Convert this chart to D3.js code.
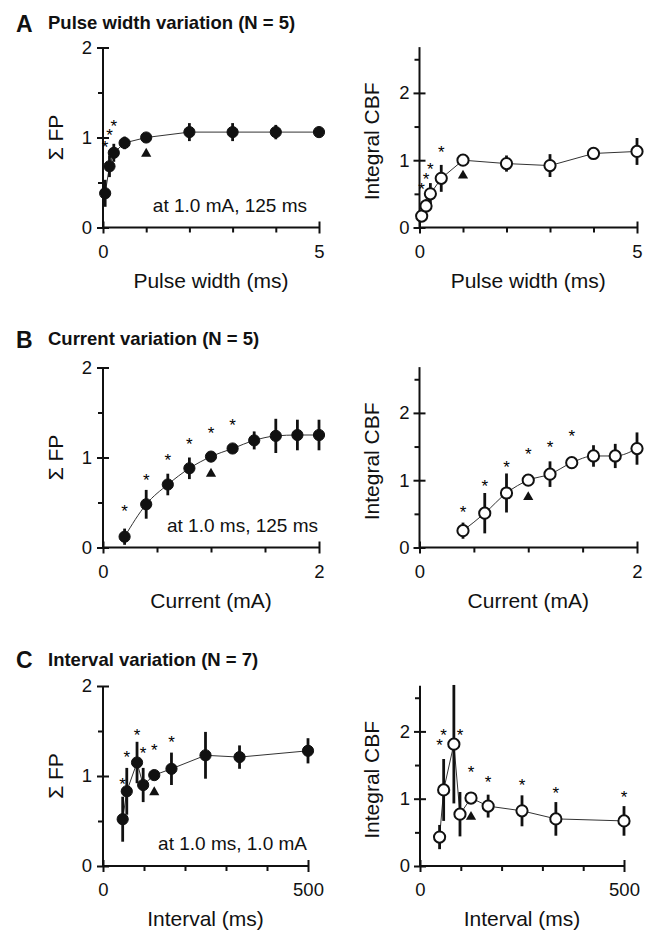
<!DOCTYPE html>
<html>
<head>
<meta charset="utf-8">
<script src="https://cdn.jsdelivr.net/npm/d3@7"></script>
<style>
  body { margin: 0; background: #fff; }
  text { font-family: "Liberation Sans", Arial, sans-serif; fill: #111; }
</style>
</head>
<body>
<div id="container"></div>
<script>
// ---- data ----
// A: pulse width variation
let pwX      = [0.05, 0.15, 0.25, 0.5, 1, 2, 3, 4, 5];
let fpA      = [0.38, 0.68, 0.83, 0.94, 1.0, 1.06, 1.06, 1.06, 1.06];
let fpAErr   = [0.15, 0.12, 0.10, 0.07, 0, 0.10, 0.10, 0.08, 0.05];
let fpAStar  = [0.94, 1.07, 1.17, null, null, null, null, null, null];
let cbfA     = [0.17, 0.32, 0.50, 0.73, 1.0, 0.95, 0.92, 1.10, 1.13];
let cbfAErr  = [0.07, 0.10, 0.16, 0.20, 0, 0.12, 0.17, 0.05, 0.20];
let cbfAStar = [0.63, 0.78, 0.93, 1.18, null, null, null, null, null];

// B: current variation
let curX     = [0.2, 0.4, 0.6, 0.8, 1.0, 1.2, 1.4, 1.6, 1.8, 2.0];
let fpB      = [0.12, 0.48, 0.70, 0.88, 1.01, 1.10, 1.19, 1.24, 1.25, 1.25];
let fpBErr   = [0.09, 0.16, 0.12, 0.12, 0, 0.05, 0.10, 0.19, 0.17, 0.17];
let fpBStar  = [0.45, 0.79, 1.02, 1.20, 1.32, 1.41, null, null, null, null];
let curX2    = [0.4, 0.6, 0.8, 1.0, 1.2, 1.4, 1.6, 1.8, 2.0];
let cbfB     = [0.25, 0.51, 0.81, 1.0, 1.09, 1.26, 1.36, 1.36, 1.47];
let cbfBErr  = [0.12, 0.30, 0.29, 0, 0.19, 0.08, 0.16, 0.18, 0.24];
let cbfBStar = [0.58, 0.97, 1.26, 1.45, 1.55, 1.71, null, null, null];

// C: interval variation
let intX     = [48, 58, 83, 98, 125, 167, 250, 333, 500];
let fpC      = [0.52, 0.83, 1.15, 0.90, 1.01, 1.08, 1.23, 1.21, 1.28];
let fpCErr   = [0.25, 0.26, 0.23, 0.19, 0, 0.18, 0.26, 0.13, 0.14];
let fpCStar  = [0.96, 1.26, 1.50, 1.30, 1.33, 1.42, null, null, null];
let cbfC     = [0.43, 1.13, 1.81, 0.77, 1.01, 0.89, 0.82, 0.70, 0.67];
let cbfCErr  = [0.18, 0.46, 0.88, 0.33, 0, 0.17, 0.23, 0.25, 0.22];
let cbfCStar = [1.85, 2.0, null, 2.0, 1.45, 1.31, 1.26, 1.14, 1.09];

// reference point (triangle) per panel: [x, y]
let refA = [[1, 0.82], [1, 0.77]];
let refB = [[1, 0.82], [1, 0.75]];
let refC = [[125, 0.82], [125, 0.73]];

let titles  = ["Pulse width variation (N = 5)", "Current variation (N = 5)", "Interval variation (N = 7)"];
let letters = ["A", "B", "C"];
let xLabels = ["Pulse width (ms)", "Current (mA)", "Interval (ms)"];
let notes   = ["at 1.0 mA, 125 ms", "at 1.0 ms, 125 ms", "at 1.0 ms, 1.0 mA"];

// ---- svg ----
let w = 650;
let h = 931;
let viz = d3.select("#container")
  .append("svg")
    .attr("width", w)
    .attr("height", h)
    .style("background-color", "#fff");

function drawPanel(cfg) {
  let x = d3.scaleLinear().domain(cfg.xDomain).range(cfg.xRange);
  let y = d3.scaleLinear().domain(cfg.yDomain).range(cfg.yRange);
  let g = viz.append("g");

  // y axis line
  g.append("line")
    .attr("x1", x(cfg.xDomain[0])).attr("x2", x(cfg.xDomain[0]))
    .attr("y1", y(0)).attr("y2", y(cfg.yDomain[1]))
    .attr("stroke", "#111").attr("stroke-width", 2);
  // x axis line
  g.append("line")
    .attr("x1", x(cfg.xDomain[0])).attr("x2", x(cfg.xDomain[1]))
    .attr("y1", y(0)).attr("y2", y(0))
    .attr("stroke", "#111").attr("stroke-width", 2);

  // y ticks
  let yMajor = g.append("g")
    .attr("transform", "translate(" + x(cfg.xDomain[0]) + ",0)")
    .call(d3.axisLeft(y).tickValues([0, 1, 2]).tickSize(6).tickPadding(cfg.yPad).tickFormat(d3.format("d")));
  yMajor.selectAll(".tick line").attr("x1", 6);
  let yMinor = g.append("g")
    .attr("transform", "translate(" + x(cfg.xDomain[0]) + ",0)")
    .call(d3.axisLeft(y).tickValues(cfg.yMinor).tickSize(5).tickFormat(""));

  // x ticks
  let xMajor = g.append("g")
    .attr("transform", "translate(0," + y(0) + ")")
    .call(d3.axisBottom(x).tickValues(cfg.xDomain).tickSize(6).tickPadding(11).tickFormat(d3.format("d")));
  xMajor.selectAll(".tick line").attr("y1", -6);
  let xMinor = g.append("g")
    .attr("transform", "translate(0," + y(0) + ")")
    .call(d3.axisBottom(x).tickValues(cfg.xMinor).tickSize(5).tickFormat(""));

  [yMajor, yMinor, xMajor, xMinor].forEach(a => {
    a.select(".domain").remove();
    a.selectAll(".tick line").attr("stroke", "#111").attr("stroke-width", 2);
    a.selectAll("text").style("font-size", "18.5px").attr("fill", "#111");
  });

  // axis titles
  g.append("text")
    .text(cfg.xLabel)
    .attr("x", (cfg.xRange[0] + cfg.xRange[1]) / 2)
    .attr("y", y(0) + 60)
    .attr("text-anchor", "middle")
    .style("font-size", "21px");
  g.append("text")
    .text(cfg.yLabel)
    .attr("transform", "translate(" + cfg.yLabelX + "," + ((y(0) + y(cfg.yDomain[1])) / 2 + cfg.yLabelDy) + ") rotate(-90)")
    .attr("text-anchor", "middle")
    .style("font-size", "21px");

  let data = cfg.xs.map((d, i) => ({x: d, y: cfg.ys[i], e: cfg.errs[i], s: cfg.stars[i]}));

  // connecting line
  let line = d3.line().x(d => x(d.x)).y(d => y(d.y)).curve(cfg.curve);
  g.append("path")
    .attr("d", line(data))
    .attr("fill", "none")
    .attr("stroke", "#333")
    .attr("stroke-width", 1);

  // error bars
  g.selectAll(".err").data(data.filter(d => d.e > 0)).enter()
    .append("line")
      .attr("class", "err")
      .attr("x1", d => x(d.x)).attr("x2", d => x(d.x))
      .attr("y1", d => y(d.y - d.e)).attr("y2", d => y(d.y + d.e))
      .attr("stroke", "#111")
      .attr("stroke-width", 2.8);

  // markers
  g.selectAll(".dot").data(data).enter()
    .append("circle")
      .attr("class", "dot")
      .attr("cx", d => x(d.x))
      .attr("cy", d => y(d.y))
      .attr("r", 5.6)
      .attr("fill", cfg.filled ? "#111" : "#fff")
      .attr("stroke", "#111")
      .attr("stroke-width", cfg.filled ? 1 : 2);

  // significance stars
  g.selectAll(".star").data(data.filter(d => d.s != null)).enter()
    .append("text")
      .attr("class", "star")
      .text("*")
      .attr("x", d => x(d.x))
      .attr("y", d => y(d.s) + 10)
      .attr("text-anchor", "middle")
      .style("font-size", "17px")
      .style("fill", "#000");

  // reference triangle
  g.append("path")
    .attr("d", d3.symbol().type(d3.symbolTriangle).size(45)())
    .attr("transform", "translate(" + x(cfg.ref[0]) + "," + y(cfg.ref[1]) + ")")
    .attr("fill", "#111");

  // condition note
  if (cfg.note) {
    g.append("text")
      .text(cfg.note)
      .attr("x", cfg.noteX)
      .attr("y", y(0) - 16)
      .attr("text-anchor", "end")
      .style("font-size", "19px");
  }
}

let rowY0 = [227.5, 547.5, 866];
let leftPx = 90, rightPx = 67.3;
let xsets = [
  {left: pwX, right: pwX, dom: [0, 5], minor: [1, 2, 3, 4], lr: [103, 319], rr: [419.5, 637]},
  {left: curX, right: curX2, dom: [0, 2], minor: [0.5, 1, 1.5], lr: [103, 319], rr: [419.5, 637]},
  {left: intX, right: intX, dom: [0, 500], minor: [100, 200, 300, 400], lr: [103, 308], rr: [420, 624]}
];
let leftY  = [[fpA, fpAErr, fpAStar], [fpB, fpBErr, fpBStar], [fpC, fpCErr, fpCStar]];
let rightY = [[cbfA, cbfAErr, cbfAStar], [cbfB, cbfBErr, cbfBStar], [cbfC, cbfCErr, cbfCStar]];
let refs = [refA, refB, refC];
let curves = [d3.curveLinear, d3.curveMonotoneX, d3.curveLinear];
let titleY = [29, 345, 665.5];

for (let r = 0; r < 3; r++) {
  let y0 = rowY0[r];
  viz.append("text").text(letters[r])
    .attr("x", 16).attr("y", titleY[r] + 2.5)
    .style("font-size", "23px").style("font-weight", "bold");
  viz.append("text").text(titles[r])
    .attr("x", 48).attr("y", titleY[r])
    .style("font-size", "18.5px").style("font-weight", "bold");

  drawPanel({
    xDomain: xsets[r].dom, xRange: xsets[r].lr, xMinor: xsets[r].minor,
    yDomain: [0, 2], yRange: [y0, y0 - 2 * leftPx], yMinor: [0.5, 1.5], yPad: 5,
    xs: xsets[r].left, ys: leftY[r][0], errs: leftY[r][1], stars: leftY[r][2],
    filled: true, curve: curves[r], ref: refs[r][0],
    xLabel: xLabels[r], yLabel: "Σ FP", yLabelX: 63, yLabelDy: 0,
    note: notes[r], noteX: r == 1 ? 318 : 307
  });
  drawPanel({
    xDomain: xsets[r].dom, xRange: xsets[r].rr, xMinor: xsets[r].minor,
    yDomain: [0, 2.68], yRange: [y0, y0 - 2.68 * rightPx], yMinor: [0.5, 1.5, 2.5], yPad: 4,
    xs: xsets[r].right, ys: rightY[r][0], errs: rightY[r][1], stars: rightY[r][2],
    filled: false, curve: curves[r], ref: refs[r][1],
    xLabel: xLabels[r], yLabel: "Integral CBF", yLabelX: 379, yLabelDy: 4,
    note: null
  });
}
</script>
</body>
</html>
